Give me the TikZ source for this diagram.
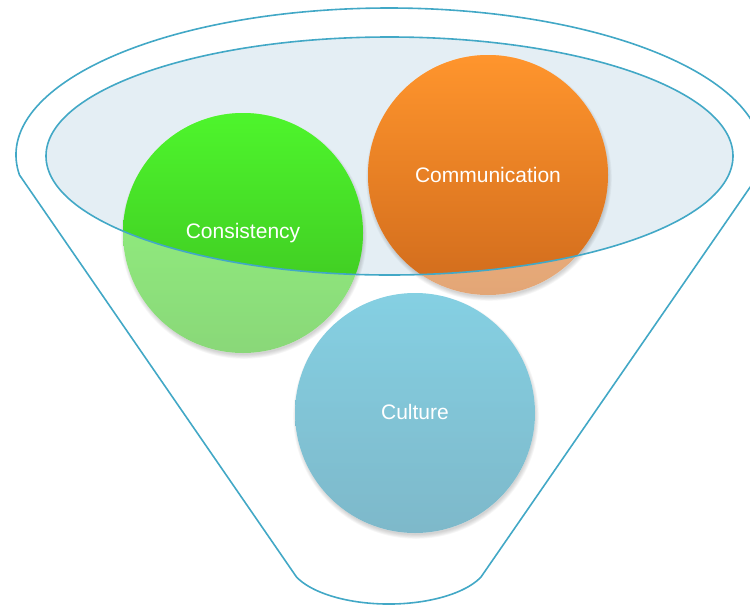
\documentclass[tikz,border=0pt]{standalone}
\usepackage{fontspec}
\setmainfont{Liberation Sans}
\usetikzlibrary{calc}
\definecolor{rimcol}{HTML}{42A8C6}
\definecolor{ellcol}{HTML}{E4EEF4}
\definecolor{gtop}{HTML}{4EF52C}
\definecolor{gbot}{HTML}{3CBE20}
\definecolor{otop}{HTML}{FF952D}
\definecolor{obot}{HTML}{D06B1C}
\definecolor{ctop}{HTML}{34B1D0}
\definecolor{cbot}{HTML}{288AA7}
\tikzset{
  rim/.style={draw=rimcol, line width=1.6pt},
  lbl/.style={text=white, font=\fontsize{21}{25}\selectfont, inner sep=0pt},
}
\begin{document}
\begin{tikzpicture}[x=1pt,y=-1pt]
\useasboundingbox (0,0) rectangle (750,606);
\coordinate (ec) at (389.5,156);
\coordinate (fc) at (389,155);
\coordinate (gc) at (243,233);
\coordinate (oc) at (488,175);
\coordinate (cc) at (415,413);
% ellipse fill
\fill[ellcol] (ec) ellipse [x radius=343.5pt, y radius=119pt];
% shadows
\foreach \p in {gc,oc,cc}{
  \foreach \i in {1,...,6}{
    \fill[black, opacity=0.03] ($(\p)+(1,3)$) circle [radius=118pt+\i*0.8pt];
  }
}
% faded circles
\foreach \p/\t/\b in {gc/gtop/gbot, oc/otop/obot, cc/ctop/cbot}{
  \fill[white] (\p) circle [radius=120pt];
  \shade[top color=\t, bottom color=\b, opacity=0.6] (\p) circle [radius=120pt];
}
% vivid parts inside the ellipse
\begin{scope}
  \clip (ec) ellipse [x radius=343.5pt, y radius=119pt];
  \foreach \p/\t/\b in {gc/gtop/gbot, oc/otop/obot}{
    \shade[top color=\t, bottom color=\b] (\p) circle [radius=120pt];
  }
\end{scope}
% strokes
\draw[rim] (ec) ellipse [x radius=343.5pt, y radius=119pt];
\draw[rim, line join=round] ($(fc)+(187.8:373pt and 147pt)$)
  arc[start angle=187.8, end angle=-7.8, x radius=373pt, y radius=147pt]
  -- (481,577)
  arc[start angle=-22.7, end angle=-157.3, x radius=100pt, y radius=44pt]
  -- cycle;
% labels
\node[lbl] (cons) at (243,233) {Consistency};
\node[lbl] (comm) at (488,175) {Communication};
\node[lbl] (cult) at (415,412) {Culture};
\end{tikzpicture}
\end{document}
